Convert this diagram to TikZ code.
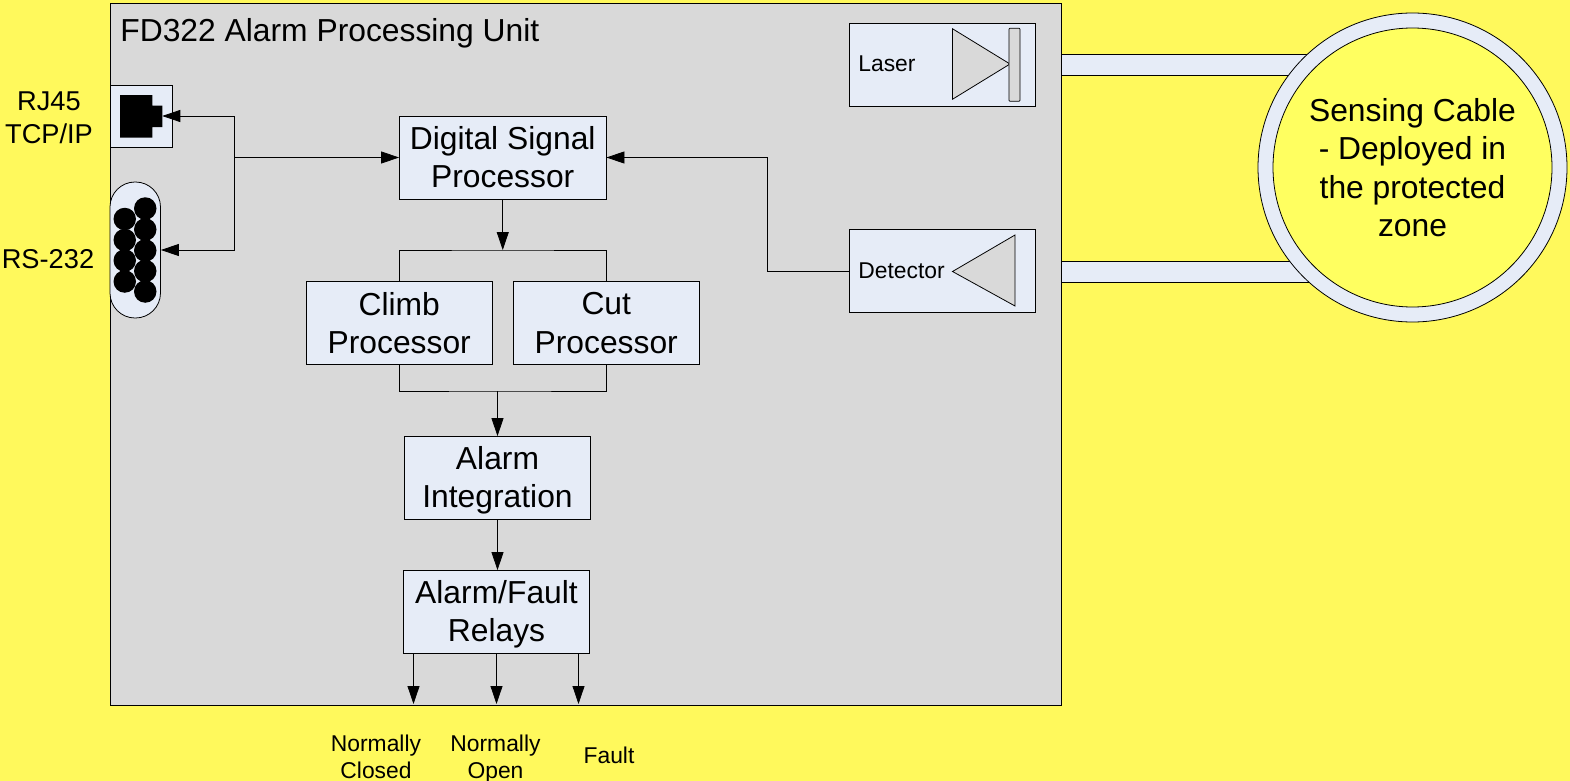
\documentclass[tikz,border=0pt]{standalone}
\usepackage{fontspec}
\setmainfont{Liberation Sans}
\usepackage{xcolor}
\usetikzlibrary{arrows.meta, positioning, calc}
\definecolor{sheetyellow}{HTML}{FFF95C}
\definecolor{zoneyellow}{HTML}{FFFF60}
\definecolor{unitgrey}{HTML}{D9D9D9}
\definecolor{blockblue}{HTML}{E6ECF7}
\tikzset{
  blockbox/.style={draw, fill=blockblue, line width=0.45pt, minimum width=3.72cm, minimum height=1.66cm, inner sep=0pt, align=center, font=\fontsize{18.1}{21.7}\selectfont},
  sidebox/.style={draw, fill=blockblue, line width=0.45pt, minimum width=3.72cm, minimum height=1.66cm},
  smalltext/.style={align=center, inner sep=0pt, font=\fontsize{13}{15.4}\selectfont},
  porttext/.style={align=center, inner sep=0pt, font=\fontsize{15.5}{18.8}\selectfont},
  bar/.style={draw, fill=blockblue, line width=0.45pt},
  optic/.style={draw, fill=unitgrey, line width=0.45pt},
  pin/.style={fill=black}
}

\begin{document}
\begin{tikzpicture}[>={Triangle[length=3.6mm,width=2.4mm]}, line width=0.45pt]

            % Hintergrund
            \fill[sheetyellow] (0,0) rectangle (31.4,-15.62);
            \useasboundingbox (0,0) rectangle (31.4,-15.62);

            % Kabel zum Sensor
            \draw[bar] (21,-1.085) rectangle (27,-1.5);
            \draw[bar] (21,-5.225) rectangle (27,-5.64);

            % Gehaeuse
            \node[draw, fill=unitgrey, line width=0.5pt, minimum width=19.02cm, minimum height=14.04cm, inner sep=0pt] (unit) at (11.715,-7.08) {};
            \node[anchor=west, inner sep=0pt, font=\fontsize{18.1}{21.8}\selectfont] (title) at (2.4,-0.66) {FD322 Alarm Processing Unit};

            % Sensor
            \node[circle, bar, minimum size=6.18cm, inner sep=0pt] (ring) at (28.25,-3.35) {};
            \node[circle, draw, fill=zoneyellow, line width=0.45pt, minimum size=5.58cm, inner sep=0pt, align=center, font=\fontsize{18.1}{21.8}\selectfont] (zone) at (28.25,-3.35) {Sensing Cable\\- Deployed in\\the protected\\zone};

            % Blöcke
            \node[blockbox, minimum width=4.13cm] (dsp) at (10.055,-3.15) {Digital Signal\\Processor};
            \node[blockbox] (climb) at (7.985,-6.46) {Climb\\Processor};
            \node[blockbox] (cut) at (12.125,-6.46) {Cut\\Processor};
            \node[blockbox, text depth=1.6pt] (integ) at (9.95,-9.56) {Alarm\\Integration};
            \node[blockbox, text depth=1.6pt] (relays) at (9.93,-12.24) {Alarm/Fault\\Relays};

            % Laser und Detektor
            \node[sidebox] (laser) at (18.85,-1.3) {};
            \node[sidebox] (detector) at (18.85,-5.42) {};
            \node[anchor=west, smalltext] (lasertext) at (17.16,-1.28) {Laser};
            \node[anchor=west, smalltext] (detectortext) at (17.16,-5.42) {Detector};
            \draw[optic] (19.05,-0.575) -- (20.2,-1.28) -- (19.05,-1.985) -- cycle;
            \draw[optic, rounded corners=0.5pt] (20.18,-0.565) rectangle (20.4,-2.025);
            \draw[optic] (19.05,-5.43) -- (20.3,-4.7) -- (20.3,-6.12) -- cycle;

            % RJ45 Buchse
            \node[draw, fill=blockblue, line width=0.45pt, minimum width=1.25cm, minimum height=1.24cm, inner sep=0pt] (rjport) at (2.825,-2.32) {};
            \fill[black] (2.4,-1.905) -- (3.045,-1.905) -- (3.045,-2.115) -- (3.245,-2.115) -- (3.245,-2.545) -- (3.045,-2.545) -- (3.045,-2.755) -- (2.4,-2.755) -- cycle;
            \coordinate (rjtip) at (3.245,-2.32);

            % RS-232 Stecker
            \node[draw, fill=blockblue, line width=0.45pt, rounded corners=0.5cm, minimum width=1.01cm, minimum height=2.72cm, inner sep=0pt] (rsport) at (2.705,-5) {};
            \foreach \y in {4.38,4.8,5.21,5.63}
               \fill[pin] (2.495,-\y) circle (0.225);
            \foreach \y in {4.17,4.59,5.01,5.42,5.83}
               \fill[pin] (2.905,-\y) circle (0.225);

            % Beschriftung aussen
            \node[porttext] (rjtext) at (0.98,-2.36) {RJ45\\TCP/IP};
            \node[porttext] (rstext) at (0.96,-5.18) {RS-232};
            \node[smalltext] (closedtext) at (7.52,-15.14) {Normally\\Closed};
            \node[smalltext] (opentext) at (9.91,-15.18) {Normally\\Open};
            \node[smalltext] (faulttext) at (12.18,-15.11) {Fault};

            % Verbindungen links
            \coordinate (split) at (4.69,-3.15);
            \draw[->] (split) -- (dsp.west);
            \draw[->] (split) |- (rjtip);
            \draw[->] (split) |- (rsport.east);

            % Detektor zum Prozessor
            \draw[->] (detector.west) -| (15.34,-3.15) -- (dsp.east);

            % Sammelschienen
            \coordinate (busup) at (10.055,-5);
            \coordinate (buslow) at (9.95,-7.82);
            \draw[->] (dsp.south) -- (busup);
            \draw (climb.north) |- (busup) -| (cut.north);
            \draw (climb.south) |- (buslow) -| (cut.south);
            \draw[->] (buslow) -- (integ.north);
            \draw[->] (integ.south) -- (integ.south |- relays.north);

            % Relaisausgaenge
            \coordinate (outclosed) at (8.27,-14.08);
            \coordinate (outopen) at (9.93,-14.08);
            \coordinate (outfault) at (11.57,-14.08);
            \draw[->] (relays.south -| outclosed) -- (outclosed);
            \draw[->] (relays.south -| outopen) -- (outopen);
            \draw[->] (relays.south -| outfault) -- (outfault);

         \end{tikzpicture}
\end{document}
